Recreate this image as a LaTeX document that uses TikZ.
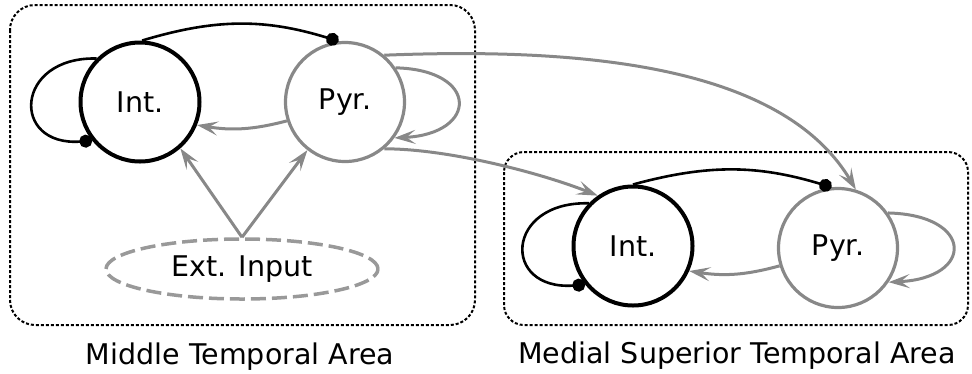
\documentclass[tikz,border=0pt]{standalone}
\usepackage{fontspec}
\setmainfont{DejaVu Sans}
\usepackage{tikz}
\usetikzlibrary{shapes.geometric, arrows.meta}
\definecolor{pyrColor}{RGB}{136,136,136}
\definecolor{inputColor}{RGB}{153,153,153}
\newcommand{\labelFont}{\fontsize{28.5}{34}\selectfont}
\tikzstyle{areaStyle} = [color=black, line width=2pt, dash pattern=on 3pt off 2pt, rounded corners=25pt]
\tikzstyle{intStyle} = [circle, draw=black, line width=4pt, minimum size=119pt, inner sep=0pt, font=\labelFont]
\tikzstyle{pyrStyle} = [circle, draw=pyrColor, line width=3.2pt, minimum size=119pt, inner sep=0pt, font=\labelFont]
\tikzstyle{inputStyle} = [ellipse, draw=inputColor, line width=3.5pt, dash pattern=on 15pt off 6pt, minimum width=272pt, minimum height=60pt, inner sep=0pt, font=\labelFont]
\tikzstyle{excLine} = [draw=pyrColor, line width=3pt, -{Stealth[length=21pt, width=14pt, inset=9pt]}]
\tikzstyle{inhLine} = [draw=black, line width=2.6pt, -{Circle[length=13pt]}]
\tikzstyle{areaText} = [anchor=base, font=\labelFont]

\begin{document}
\begin{tikzpicture}[x=1pt, y=1pt]
  \useasboundingbox (0,0) rectangle (972,-373);

  % the two areas
  \draw [areaStyle] (10,-5) rectangle (475,-325);
  \draw [areaStyle, rounded corners=20pt] (504,-152) rectangle (968,-325);
  \node [areaText] (mtText) at (240,-364) {Middle Temporal Area};
  \node [areaText] (mstText) at (737,-363) {Medial Superior Temporal Area};

  % populations
  \node [intStyle] (intMT) at (140,-102) {Int.};
  \node [pyrStyle] (pyrMT) at (345,-102) {Pyr.};
  \node [inputStyle] (extInput) at (242,-269) {Ext. Input};
  \node [intStyle] (intMST) at (633,-246) {Int.};
  \node [pyrStyle] (pyrMST) at (838,-248) {Pyr.};

  % MT
  \draw [inhLine] (intMT.135) .. controls +(-82,2) and +(-82,-6) .. (intMT.219);
  \draw [inhLine] (intMT.88) to [bend left=17] (pyrMT.96);
  \draw [excLine] (pyrMT.198) to [bend left=12] (intMT.-22);
  \draw [excLine] (pyrMT.34) .. controls +(84,-2) and +(84,4) .. (pyrMT.-36);
  \draw [excLine] (extInput.north) -- (intMT.-49);
  \draw [excLine] (extInput.north) -- (pyrMT.-128);

  % MT to MST
  \draw [excLine] (pyrMT.50) .. controls +(200,8) and +(-73,124) .. (pyrMST.73);
  \draw [excLine] (pyrMT.-50) .. controls +(65,0) and +(-55,22) .. (intMST.125);

  % MST
  \draw [inhLine] (intMST.136) .. controls +(-84,2) and +(-84,-6) .. (intMST.219);
  \draw [inhLine] (intMST.90) to [bend left=16] (pyrMST.96);
  \draw [excLine] (pyrMST.197) to [bend left=12] (intMST.-24);
  \draw [excLine] (pyrMST.35) .. controls +(86,-2) and +(86,4) .. (pyrMST.-34);
\end{tikzpicture}
\end{document}
